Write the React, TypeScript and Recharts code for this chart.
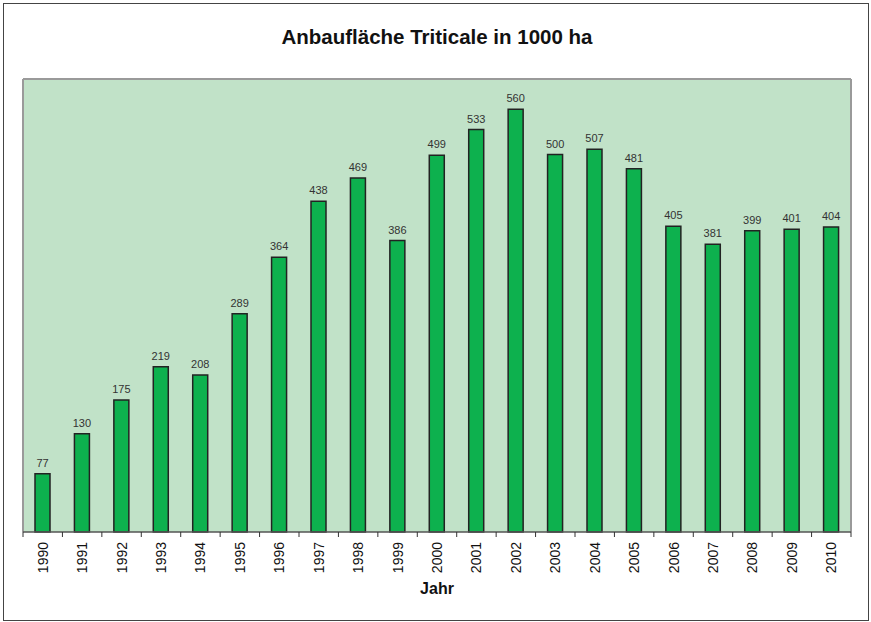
import { BarChart, Bar, XAxis, YAxis, CartesianGrid, LabelList } from "recharts";

const years = ["1990", "1991", "1992", "1993", "1994", "1995", "1996", "1997", "1998", "1999", "2000",
  "2001", "2002", "2003", "2004", "2005", "2006", "2007", "2008", "2009", "2010"];
const flaeche = [77, 130, 175, 219, 208, 289, 364, 438, 469, 386, 499, 533, 560, 500, 507, 481, 405, 381, 399, 401, 404];

const data = years.map((jahr, i) => ({ jahr, wert: flaeche[i] }));

const FONT = "'Liberation Sans', Arial, sans-serif";

// Jahreszahl senkrecht, Teilstriche zwischen den Kategorien
function YearTick(props: any) {
  const { x, y, payload, index, width, visibleTicksCount } = props;
  const band = width / visibleTicksCount;
  const axisY = y;
  return (
    <g>
      <line x1={x - band / 2} x2={x - band / 2} y1={axisY} y2={axisY + 5} stroke="#333" />
      {index === visibleTicksCount - 1 && (
        <line x1={x + band / 2} x2={x + band / 2} y1={axisY} y2={axisY + 5} stroke="#333" />
      )}
      <text
        transform={`translate(${x},${axisY + 10}) rotate(-90)`}
        textAnchor="end"
        dy="0.36em"
        fontSize={14}
        fill="#111"
        fontFamily={FONT}
      >
        {payload.value}
      </text>
    </g>
  );
}

export default function App() {
  return (
    <div style={{ position: "absolute", left: 0, top: 0, width: 871, height: 622, background: "#fff", fontFamily: FONT }}>
      <div
        style={{
          position: "absolute", left: 3, top: 3, width: 866, height: 618,
          border: "1.5px solid #444", boxSizing: "border-box",
        }}
      />
      <div
        style={{
          position: "absolute", left: 0, top: 25, width: 874, textAlign: "center",
          fontSize: 20.5, fontWeight: "bold", color: "#111", zIndex: 2,
        }}
      >
        Anbaufläche Triticale in 1000 ha
      </div>
      <BarChart
        width={871}
        height={622}
        data={data}
        margin={{ top: 79, right: 20, left: 23, bottom: 0 }}
        barCategoryGap={0}
        style={{ position: "absolute", left: 0, top: 0 }}
      >
        <CartesianGrid
          fill="#c1e2c8"
          stroke="#9a9a9a"
          strokeWidth={2}
          horizontalCoordinatesGenerator={({ offset }: any) => [offset.top]}
          verticalCoordinatesGenerator={({ offset }: any) => [offset.left, offset.left + offset.width]}
        />
        <XAxis
          dataKey="jahr"
          interval={0}
          height={90}
          tickSize={0}
          tickMargin={0}
          tickLine={false}
          axisLine={{ stroke: "#555", strokeWidth: 1.5 }}
          tick={<YearTick />}
          label={{ value: "Jahr", position: "insideBottom", offset: 28, fontSize: 16, fontWeight: "bold", fill: "#111", fontFamily: FONT }}
        />
        <YAxis domain={[0, 600]} hide />
        <Bar dataKey="wert" fill="#0db14e" stroke="#222" strokeWidth={1.5} barSize={15} isAnimationActive={false}>
          <LabelList dataKey="wert" position="top" offset={7} fontSize={11} fill="#333" fontFamily={FONT} />
        </Bar>
      </BarChart>
    </div>
  );
}
